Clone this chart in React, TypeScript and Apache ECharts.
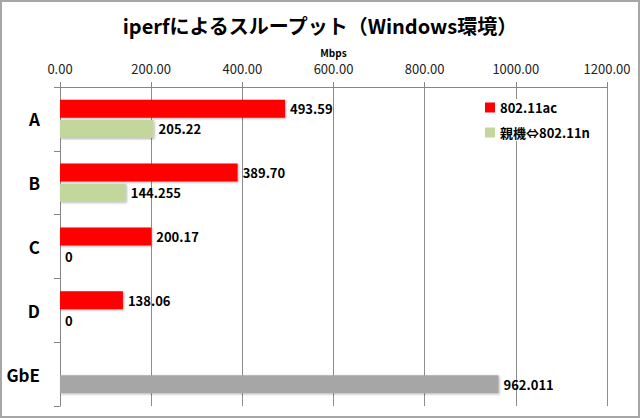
import React, { useEffect, useRef } from "react";
import * as echarts from "echarts";

const categories = ["A", "B", "C", "D", "GbE"];
const seriesNames = ["802.11ac", "親機⇔802.11n"];
const acValues: (number | null)[] = [493.59, 389.7, 200.17, 138.06, null];
const nValues: number[] = [205.22, 144.255, 0, 0, 962.011];
const xTicks = { min: 0, max: 1200, interval: 200 };

const FONT = "'Noto Sans CJK JP', 'Noto Sans', sans-serif";

export default function App() {
  const ref = useRef<HTMLDivElement>(null);
  useEffect(() => {
    document.body.style.margin = "0";
    const chart = echarts.init(ref.current!, null, { renderer: "svg" });
    const shadow = {
      shadowColor: "rgba(0,0,0,0.3)",
      shadowBlur: 2,
      shadowOffsetX: 1,
      shadowOffsetY: 1,
    };
    chart.setOption({
      animation: false,
      backgroundColor: "#ffffff",
      textStyle: { fontFamily: FONT },
      title: {
        text: "iperfによるスループット（Windows環境）",
        left: "center",
        top: 10,
        textStyle: { fontFamily: FONT, fontSize: 20, fontWeight: "bold", color: "#000" },
      },
      legend: {
        orient: "vertical",
        left: 481,
        top: 99,
        itemWidth: 10,
        itemHeight: 10,
        itemGap: 12,
        icon: "rect",
        backgroundColor: "#ffffff",
        padding: [2, 4, 2, 4],
        data: seriesNames,
        textStyle: { fontFamily: FONT, fontSize: 13, fontWeight: "bold", color: "#000" },
      },
      grid: { left: 60, right: 33, top: 87, bottom: 12, containLabel: false },
      xAxis: {
        type: "value",
        position: "top",
        min: xTicks.min,
        max: xTicks.max,
        interval: xTicks.interval,
        name: "Mbps",
        nameLocation: "middle",
        nameGap: 29,
        nameTextStyle: { fontFamily: FONT, fontSize: 10, fontWeight: "bold", color: "#000" },
        axisLine: { show: true, lineStyle: { color: "#868686", width: 1 } },
        axisTick: { show: true, length: 5, lineStyle: { color: "#868686" } },
        axisLabel: {
          margin: 12,
          fontFamily: FONT,
          fontSize: 13,
          color: "#222",
          formatter: (v: number) => v.toFixed(2),
        },
        splitLine: { show: true, lineStyle: { color: "#8c8c8c", width: 1 } },
      },
      yAxis: {
        type: "category",
        inverse: true,
        data: categories,
        axisLine: { show: true, lineStyle: { color: "#868686", width: 1 } },
        axisTick: { show: true, length: 6, lineStyle: { color: "#868686" } },
        axisLabel: {
          margin: 20,
          align: "right",
          fontFamily: FONT,
          fontSize: 17,
          fontWeight: "bold",
          color: "#000",
        },
      },
      series: [
        {
          name: seriesNames[0],
          type: "bar",
          data: acValues,
          barWidth: 18,
          barGap: "12%",
          barCategoryGap: "40%",
          itemStyle: { color: "#ff0000", ...shadow },
          label: {
            show: true,
            position: "right",
            distance: 5,
            fontFamily: FONT,
            fontSize: 13,
            fontWeight: "bold",
            color: "#000",
            formatter: (p: any) => (p.value == null ? "" : Number(p.value).toFixed(2)),
          },
        },
        {
          name: seriesNames[1],
          type: "bar",
          barWidth: 18,
          data: nValues.map((v, i) =>
            categories[i] === "GbE" ? { value: v, itemStyle: { color: "#a6a6a6" } } : v
          ),
          itemStyle: { color: "#c3d69b", ...shadow },
          label: {
            show: true,
            position: "right",
            distance: 5,
            fontFamily: FONT,
            fontSize: 13,
            fontWeight: "bold",
            color: "#000",
            formatter: (p: any) => String(p.value),
          },
        },
      ],
      graphic: [
        {
          type: "rect",
          shape: { x: 1, y: 1, width: 638, height: 416 },
          style: { fill: "none", stroke: "#a6a6a6", lineWidth: 2 },
          silent: true,
        },
      ],
    });
    return () => chart.dispose();
  }, []);
  return <div ref={ref} style={{ width: 640, height: 418 }} />;
}
